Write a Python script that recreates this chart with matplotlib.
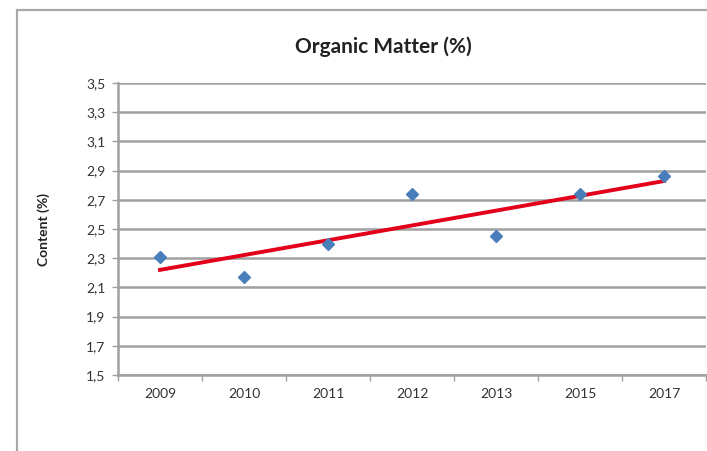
import matplotlib
matplotlib.use("Agg")
import matplotlib.pyplot as plt
import numpy as np
from matplotlib.patches import Rectangle

years = ["2009", "2010", "2011", "2012", "2013", "2015", "2017"]
organic_matter = [2.31, 2.17, 2.40, 2.74, 2.45, 2.74, 2.86]
y_ticks = [1.5, 1.7, 1.9, 2.1, 2.3, 2.5, 2.7, 2.9, 3.1, 3.3, 3.5]
y_tick_labels = ["1,5", "1,7", "1,9", "2,1", "2,3", "2,5", "2,7", "2,9", "3,1", "3,3", "3,5"]

plt.rcParams['font.family'] = ['Lato', 'DejaVu Sans']

W, H = 707, 451
fig = plt.figure(figsize=(W / 100, H / 100), dpi=100)
fig.patch.set_facecolor("white")

# outer chart border
fig.patches.append(Rectangle((17 / W, -0.05), 1.1, (H - 10) / H + 0.05,
                             transform=fig.transFigure, fill=False,
                             edgecolor="#A8A8A8", linewidth=1.6))

ax = fig.add_axes([118 / W, (H - 375) / H, (706 - 118) / W, (375 - 83) / H])

x = np.arange(len(years))
ax.set_xlim(-0.5, len(years) - 0.5)
ax.set_ylim(1.5, 3.5)

# gridlines
ax.set_yticks(y_ticks)
ax.set_yticklabels(y_tick_labels)
ax.yaxis.grid(True, color="#A0A0A0", linewidth=1.8)
ax.set_axisbelow(True)

# x ticks: labels at centers, tick marks at category boundaries
ax.set_xticks(x)
ax.set_xticklabels(years)
ax.set_xticks(np.arange(-0.5, len(years) + 0.5, 1), minor=True)
ax.tick_params(axis="x", which="major", length=0, pad=9, labelsize=10, labelcolor="#333333")
ax.tick_params(axis="x", which="minor", length=4, color="#A0A0A0", width=1)
ax.tick_params(axis="y", length=4, color="#A0A0A0", width=1, pad=5, labelsize=10, labelcolor="#333333")

for s in ["top", "right"]:
    ax.spines[s].set_visible(False)
for s in ["left", "bottom"]:
    ax.spines[s].set_color("#A0A0A0")
    ax.spines[s].set_linewidth(1.8)

# data points
ax.plot(x, organic_matter, linestyle="none", marker="D", markersize=6,
        color="#4A7EBB", zorder=4)

# linear trendline
coef = np.polyfit(x, organic_matter, 1)
ax.plot([x[0], x[-1]], np.polyval(coef, [x[0], x[-1]]), color="#E3001B",
        linewidth=2.8, zorder=3)

ax.set_ylabel("Content (%)", fontsize=10, fontweight="bold", color="#222222", labelpad=26)
fig.text(383 / W, 1 - 47 / H, "Organic Matter (%)", ha="center", va="center",
         fontsize=15, fontweight="bold", color="#222222")

fig.savefig("out.png", dpi=100, facecolor="white")
